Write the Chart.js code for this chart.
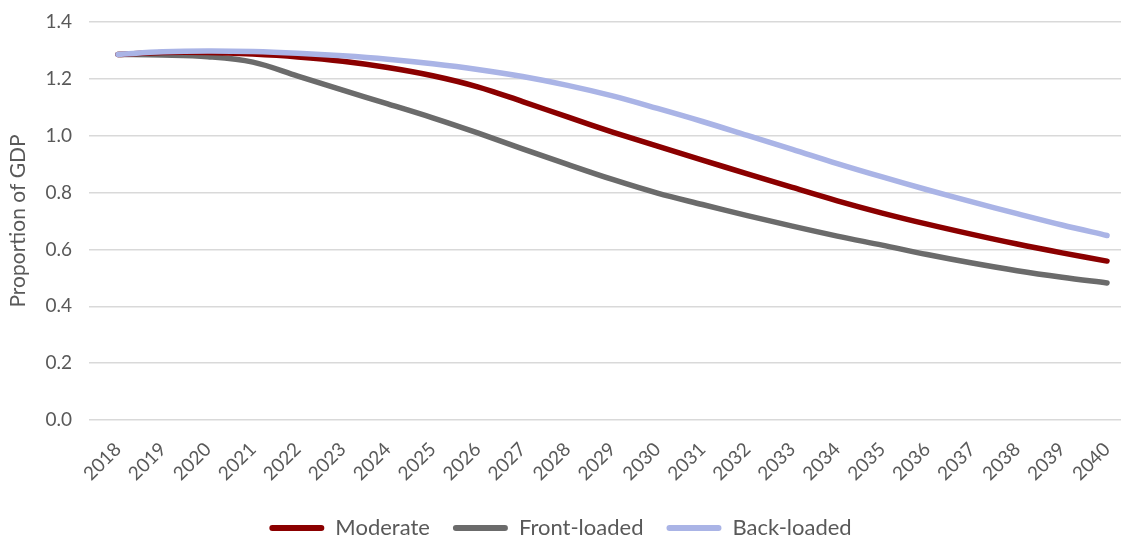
<!DOCTYPE html>
<html>
<head>
<meta charset="utf-8">
<script src="https://cdn.jsdelivr.net/npm/chart.js@4.4.1/dist/chart.umd.min.js"></script>
<style>
  html, body { margin: 0; padding: 0; background: #ffffff; }
  #wrap { width: 1121px; height: 540px; }
</style>
</head>
<body>
<div id="wrap"><canvas id="c" width="1121" height="540"></canvas></div>
<script>
// Years on the horizontal axis
const years = [2018, 2019, 2020, 2021, 2022, 2023, 2024, 2025, 2026, 2027, 2028, 2029,
               2030, 2031, 2032, 2033, 2034, 2035, 2036, 2037, 2038, 2039, 2040];

// Proportion of GDP under each scenario
const moderate = [1.286, 1.293, 1.293, 1.287, 1.277, 1.262, 1.240, 1.211, 1.172, 1.120, 1.066, 1.013,
                  0.963, 0.914, 0.866, 0.818, 0.771, 0.728, 0.689, 0.653, 0.619, 0.588, 0.559];
const frontLoaded = [1.286, 1.284, 1.278, 1.259, 1.210, 1.160, 1.112, 1.063, 1.010, 0.954, 0.899, 0.846,
                     0.798, 0.758, 0.719, 0.682, 0.647, 0.615, 0.582, 0.552, 0.525, 0.502, 0.482];
const backLoaded = [1.286, 1.295, 1.298, 1.296, 1.290, 1.281, 1.269, 1.253, 1.233, 1.208, 1.177, 1.140,
                    1.096, 1.050, 1.001, 0.952, 0.902, 0.855, 0.810, 0.767, 0.726, 0.686, 0.649];

// Value-axis ticks
const yTicks = [0, 0.2, 0.4, 0.6, 0.8, 1.0, 1.2, 1.4];

const seriesNames = ['Moderate', 'Front-loaded', 'Back-loaded'];
const seriesColors = ['#8b0000', '#6b6b6b', '#aab4e6'];

const FONT = 'Lato, "Open Sans", sans-serif';
const TEXT = '#595959';

function points(values) {
  return years.map((yr, i) => ({ x: yr, y: values[i] }));
}

function lineSet(idx, values, order) {
  return {
    label: seriesNames[idx],
    data: points(values),
    borderColor: seriesColors[idx],
    backgroundColor: seriesColors[idx],
    borderWidth: 5.5,
    borderCapStyle: 'round',
    borderJoinStyle: 'round',
    pointRadius: 0,
    pointHoverRadius: 0,
    tension: 0.35,
    fill: false,
    order: order
  };
}

new Chart(document.getElementById('c'), {
  type: 'line',
  data: {
    datasets: [
      lineSet(0, moderate, 2),
      lineSet(1, frontLoaded, 3),
      lineSet(2, backLoaded, 1)
    ]
  },
  options: {
    responsive: false,
    animation: false,
    devicePixelRatio: 1,
    layout: { padding: { top: 22, left: 0, right: 0, bottom: 0 } },
    plugins: {
      tooltip: { enabled: false },
      legend: {
        position: 'bottom',
        labels: {
          font: { family: FONT, size: 22 },
          color: TEXT,
          boxWidth: 55,
          boxHeight: 6,
          useBorderRadius: true,
          borderRadius: 3,
          padding: 23,
          sort: (a, b) => a.datasetIndex - b.datasetIndex,
          generateLabels: (chart) => {
            const items = Chart.defaults.plugins.legend.labels.generateLabels(chart);
            items.forEach(it => {
              it.fillStyle = it.strokeStyle;
              it.lineWidth = 0;
            });
            return items;
          }
        }
      }
    },
    scales: {
      x: {
        type: 'linear',
        min: 2017.355,
        max: 2040.311,
        grid: { display: false, drawTicks: false },
        border: { display: false },
        afterBuildTicks: (axis) => { axis.ticks = years.map(v => ({ value: v })); },
        afterFit: (scale) => {
          scale.height = 74;
          scale.paddingLeft = 0;
          scale.paddingRight = 0;
        },
        ticks: {
          autoSkip: false,
          minRotation: 45,
          maxRotation: 45,
          padding: 18,
          color: TEXT,
          font: { family: FONT, size: 19 },
          callback: (v) => String(v)
        }
      },
      y: {
        min: 0,
        max: 1.4,
        afterBuildTicks: (axis) => { axis.ticks = yTicks.map(v => ({ value: v })); },
        afterFit: (scale) => {
          scale.width = 89;
          scale.paddingTop = 0;
          scale.paddingBottom = 0;
        },
        grid: { color: '#d9d9d9', lineWidth: 1.5, drawTicks: false },
        border: { display: false },
        ticks: {
          padding: 17,
          color: TEXT,
          font: { family: FONT, size: 19 },
          callback: (v) => Number(v).toFixed(1)
        },
        title: {
          display: true,
          text: 'Proportion of GDP',
          color: TEXT,
          font: { family: FONT, size: 21 },
          padding: { top: 6, bottom: 0 }
        }
      }
    }
  },
  plugins: [{
    id: 'legendHeight',
    beforeInit(chart) {
      const legend = chart.legend;
      if (!legend) return;
      const fit = legend.fit.bind(legend);
      legend.fit = function () {
        fit();
        this.height = 46;
      };
    }
  }]
});
</script>
</body>
</html>
